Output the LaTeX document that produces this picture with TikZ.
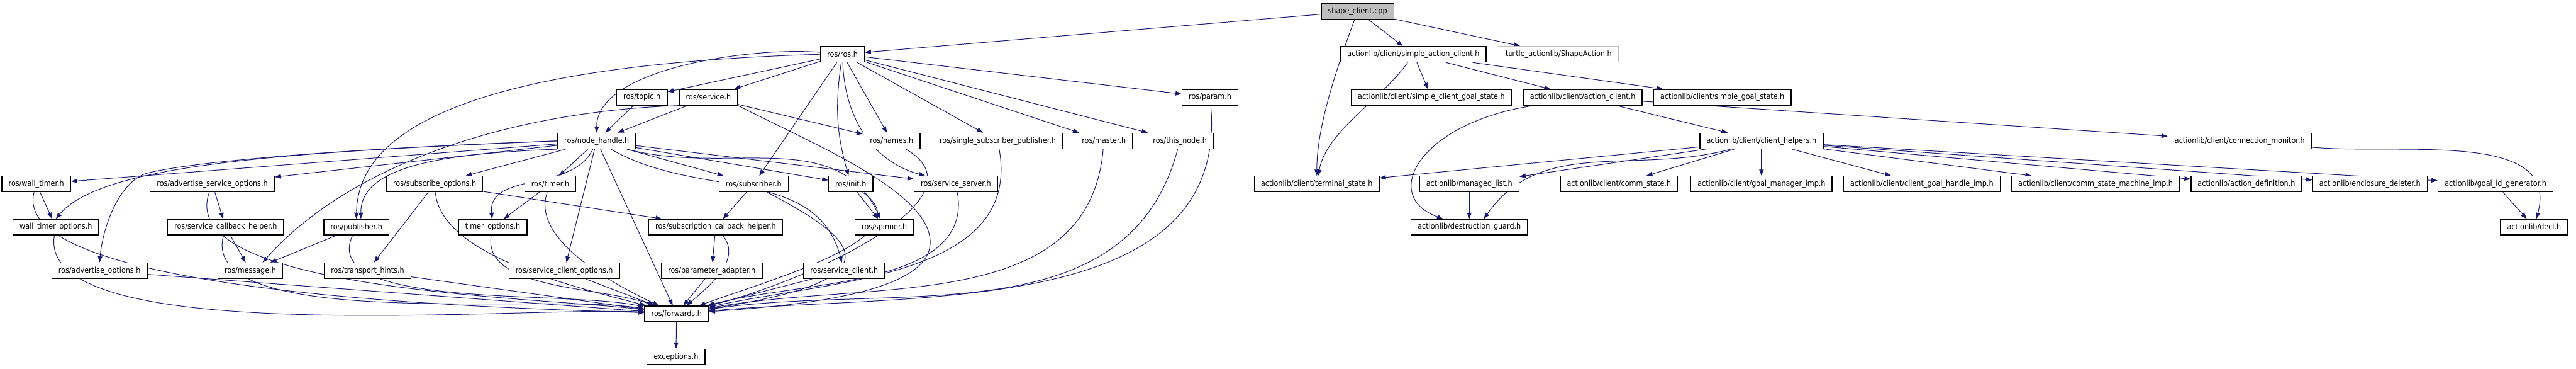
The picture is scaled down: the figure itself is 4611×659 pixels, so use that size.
\documentclass[tikz,border=0pt]{standalone}
\usepackage{fontspec}
\setmainfont{DejaVu Sans}[FakeStretch=0.9]
\usetikzlibrary{arrows.meta,backgrounds}

\definecolor{edgeblue}{RGB}{25,25,112}
\definecolor{mainfill}{RGB}{191,191,191}

\tikzset{
  hdr/.style={draw=black, line width=0.38pt, rectangle, minimum height=7pt,
    inner xsep=3pt, inner ysep=0pt, fill=white,
    font=\fontsize{3.5}{4}\selectfont},
  hdrmain/.style={hdr, fill=mainfill},
  hdrext/.style={hdr, draw=mainfill},
}

\begin{document}
\begin{tikzpicture}[x=0.25pt, y=-0.25pt, >={Triangle[length=2.75pt,width=2pt]},
    every edge/.style={draw=edgeblue, line width=0.28pt}]
  \useasboundingbox (0,0) rectangle (4611,659);

  % row 0 and 1
  \node[hdrmain] (sc) at (2430,20) {shape\_client.cpp};
  \node[hdr] (rosh) at (1508,97) {ros/ros.h};
  \node[hdr] (sac) at (2530,97) {actionlib/client/simple\_action\_client.h};
  \node[hdrext] (sa) at (2790,97) {turtle\_actionlib/ShapeAction.h};

  % row 2
  \node[hdr] (topic) at (1149,174) {ros/topic.h};
  \node[hdr] (srv) at (1268,174) {ros/service.h};
  \node[hdr] (param) at (2166,174) {ros/param.h};
  \node[hdr] (scgs) at (2562,174) {actionlib/client/simple\_client\_goal\_state.h};
  \node[hdr] (ac) at (2833,174) {actionlib/client/action\_client.h};
  \node[hdr] (sgs) at (3083,174) {actionlib/client/simple\_goal\_state.h};

  % row 3
  \node[hdr] (nh) at (1068,252) {ros/node\_handle.h};
  \node[hdr] (names) at (1596,252) {ros/names.h};
  \node[hdr] (ssp) at (1786,252) {ros/single\_subscriber\_publisher.h};
  \node[hdr] (master) at (1976,252) {ros/master.h};
  \node[hdr] (thisn) at (2112,252) {ros/this\_node.h};
  \node[hdr] (ch) at (3153,252) {actionlib/client/client\_helpers.h};
  \node[hdr] (cm) at (4009,252) {actionlib/client/connection\_monitor.h};

  % row 4
  \node[hdr] (wt) at (65,329) {ros/wall\_timer.h};
  \node[hdr] (aso) at (380,329) {ros/advertise\_service\_options.h};
  \node[hdr] (so) at (778,329) {ros/subscribe\_options.h};
  \node[hdr] (timer) at (985,329) {ros/timer.h};
  \node[hdr] (sub) at (1349,329) {ros/subscriber.h};
  \node[hdr] (init) at (1523,329) {ros/init.h};
  \node[hdr] (ss) at (1711,329) {ros/service\_server.h};
  \node[hdr] (ts) at (2357,329) {actionlib/client/terminal\_state.h};
  \node[hdr] (ml) at (2630,329) {actionlib/managed\_list.h};
  \node[hdr] (cs) at (2898,329) {actionlib/client/comm\_state.h};
  \node[hdr] (gmi) at (3153,329) {actionlib/client/goal\_manager\_imp.h};
  \node[hdr] (cghi) at (3440,329) {actionlib/client/client\_goal\_handle\_imp.h};
  \node[hdr] (csmi) at (3751,329) {actionlib/client/comm\_state\_machine\_imp.h};
  \node[hdr] (ad) at (4021,329) {actionlib/action\_definition.h};
  \node[hdr] (ed) at (4242,329) {actionlib/enclosure\_deleter.h};
  \node[hdr] (gig) at (4467,329) {actionlib/goal\_id\_generator.h};

  % row 5
  \node[hdr] (wto) at (100,406) {wall\_timer\_options.h};
  \node[hdr] (sch) at (404,406) {ros/service\_callback\_helper.h};
  \node[hdr] (pub) at (638,406) {ros/publisher.h};
  \node[hdr] (tmo) at (882,406) {timer\_options.h};
  \node[hdr] (subh) at (1281,406) {ros/subscription\_callback\_helper.h};
  \node[hdr] (spin) at (1583,406) {ros/spinner.h};
  \node[hdr] (dg) at (2630,406) {actionlib/destruction\_guard.h};
  \node[hdr] (decl) at (4536,406) {actionlib/decl.h};

  % row 6
  \node[hdr] (ao) at (178,484) {ros/advertise\_options.h};
  \node[hdr] (msg) at (448,484) {ros/message.h};
  \node[hdr] (th) at (658,484) {ros/transport\_hints.h};
  \node[hdr] (sco) at (1010,484) {ros/service\_client\_options.h};
  \node[hdr] (pa) at (1274,484) {ros/parameter\_adapter.h};
  \node[hdr] (scl) at (1511,484) {ros/service\_client.h};

  % row 7 and 8
  \node[hdr] (fwd) at (1211,561) {ros/forwards.h};
  \node[hdr] (exc) at (1210,638) {exceptions.h};

  \begin{scope}[on background layer]
  % shape_client.cpp and actionlib
  \path[->]
    (sc) edge (rosh)
    (sc) edge [out=-110, in=90, looseness=0.8] (ts)
    (sc) edge (sac)
    (sc) edge (sa)
    (sac) edge [out=-125, in=80, looseness=0.8] (ts)
    (sac) edge (scgs)
    (sac) edge (ac)
    (sac) edge (sgs)
    ([xshift=-22pt]ac.south) edge [to path={.. controls (2540,220) and (2470,350) .. (\tikztotarget)}] ([xshift=-11.75pt]dg.north)
    (ac) edge (ch)
    (ac) edge (cm)
    (ch) edge (ts)
    (ch) edge (ml)
    (ch) edge [out=195, in=55] ([xshift=6.5pt]dg.north)
    (ch) edge (cs)
    (ch) edge (gmi)
    (ch) edge (cghi)
    (ch) edge (csmi)
    (ch) edge (ad)
    (ch) edge (ed)
    (ch) edge (gig)
    (ml) edge (dg)
    (gig) edge (decl)
    (cm) edge [out=-5, in=75] (decl)
    ;

  % ros/ros.h and ros/service.h
  \path[->]
    (rosh) edge [out=175, in=90, looseness=0.7] (nh)
    (rosh) edge (topic)
    (rosh) edge (srv)
    (rosh) edge (sub)
    (rosh) edge [bend right=12] (init)
    (rosh) edge [out=-88, in=165] (ss)
    (rosh) edge (names)
    (rosh) edge (ssp)
    (rosh) edge (master)
    (rosh) edge (thisn)
    (rosh) edge (param)
    (rosh.west) edge [to path={.. controls (1050,110) and (640,170) .. (\tikztotarget)}] (pub.north)
    (topic) edge (nh)
    (srv) edge (nh)
    (srv) edge (names)
    (srv.south west) edge [to path={.. controls (900,200) and (620,300) .. (\tikztotarget)}] ([xshift=5.5pt]msg.north)
    ;

  % ros/node_handle.h
  \path[->]
    (nh) edge (wt)
    (nh.west) edge [to path={.. controls (500,272) and (180,295) .. (\tikztotarget)}] (wto.north)
    (nh.west) edge [to path={.. controls (560,268) and (330,292) .. (262,310) .. controls (215,325) and (185,400) .. (\tikztotarget)}] (ao.north)
    (nh) edge (aso)
    (nh.south west) edge [to path={.. controls (780,275) and (645,300) .. (\tikztotarget)}] ([xshift=2pt]pub.north)
    (nh) edge (so)
    (nh) edge (timer)
    (nh) edge [out=-115, in=95] (tmo)
    (nh) edge (sco)
    (nh) edge (fwd)
    (nh) edge (sub)
    (nh) edge (init)
    (nh) edge (ss)
    (nh) edge [out=-15, in=115] (spin)
    (nh) edge [out=-30, in=105] (scl)
    ;

  % everything else
  \path[->]
    (wt) edge (wto)
    (aso) edge (sch)
    (sch) edge (msg)
    (pub) edge (msg)
    (so) edge (th)
    (so) edge (subh)
    (timer) edge (tmo)
    (sub) edge (subh)
    (subh) edge (pa)
    (init) edge (spin)
    (fwd) edge (exc)
    ;

  % into ros/forwards.h
  \path[->]
    (wt) edge [out=-105, in=178, looseness=0.45] (fwd)
    (wto) edge [out=-100, in=177, looseness=0.5] (fwd)
    (ao) edge (fwd)
    (aso) edge [out=-110, in=173, looseness=0.6] (fwd)
    (sch) edge [out=-105, in=171, looseness=0.6] (fwd)
    (pub) edge [out=-115, in=168, looseness=0.7] (fwd)
    (th) edge (fwd)
    (so) edge [out=-85, in=165, looseness=0.7] (fwd)
    (tmo) edge [out=-100, in=160, looseness=0.8] (fwd)
    (timer) edge [out=-110, in=155, looseness=0.8] (fwd)
    (sco) edge (fwd)
    (pa) edge (fwd)
    (scl) edge (fwd)
    (subh) edge [out=-50, in=40] (fwd)
    ([xshift=6pt]sub.south) edge [to path={.. controls (1540,430) and (1610,500) .. (\tikztotarget)}] (fwd)
    (init) edge [out=-35, in=20] (fwd)
    (srv.south east) edge [to path={.. controls (1450,255) and (1660,340) .. (1665,430) .. controls (1670,520) and (1450,545) .. (\tikztotarget)}] (fwd)
    (ss) edge [out=-80, in=15, looseness=0.9] (fwd)
    (names) edge [out=-30, in=14] (fwd)
    (ssp) edge [out=-80, in=12] (fwd)
    (master) edge [out=-95, in=10] (fwd)
    (thisn) edge [out=-105, in=8] (fwd)
    (param) edge [out=-85, in=5] (fwd)
    ;
  \end{scope}
\end{tikzpicture}
\end{document}
